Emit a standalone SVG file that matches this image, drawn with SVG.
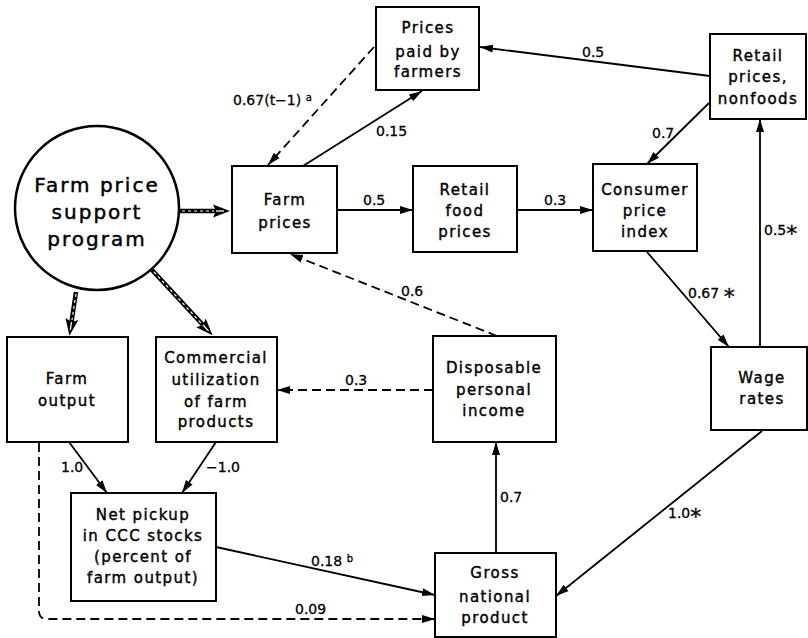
<svg xmlns="http://www.w3.org/2000/svg" width="808" height="638" viewBox="0 0 808 638">
<defs>
<style>
.box{fill:#fff;stroke:#000;stroke-width:2}
.nt{font-family:"DejaVu Sans",sans-serif;font-size:15px;letter-spacing:1.4px;text-anchor:middle;fill:#000;stroke:#000;stroke-width:0.4}
.ct{font-family:"DejaVu Sans",sans-serif;font-size:20px;letter-spacing:2px;text-anchor:middle;fill:#000;stroke:#000;stroke-width:0.45}
.lb{font-family:"DejaVu Sans",sans-serif;font-size:14px;fill:#000;stroke:#000;stroke-width:0.3}
.sup{font-size:10px}
.ast{font-size:22px}
.ln{fill:none;stroke:#000;stroke-width:1.8}
.ds{fill:none;stroke:#000;stroke-width:1.8;stroke-dasharray:9 5}
.thick{fill:none;stroke:#000;stroke-width:4.5}
.inner{fill:none;stroke:#fff;stroke-width:1.2;stroke-dasharray:3 3}
</style>
<marker id="ah" markerUnits="userSpaceOnUse" markerWidth="14" markerHeight="10" refX="13" refY="4.5" orient="auto" viewBox="0 0 14 10">
<path d="M0,0.5 L13,4.5 L0,8.5 Z" fill="#000"/>
</marker>
<marker id="dh" markerUnits="userSpaceOnUse" markerWidth="18" markerHeight="14" refX="3" refY="7" orient="auto" viewBox="0 0 18 14">
<path d="M0,0.5 L17,7 L0,13.5 L3,7 Z" fill="#000"/>
<path d="M3,7 L11,7" stroke="#fff" stroke-width="1.3"/>
</marker>
</defs>
<rect width="808" height="638" fill="#fff"/>

<g id="connectors">
<!-- double arrows from circle -->
<line class="thick" x1="180" y1="211" x2="216" y2="211" marker-end="url(#dh)"/>
<line class="inner" x1="182" y1="211" x2="214" y2="211"/>
<line class="thick" x1="76" y1="292" x2="71.5" y2="322" marker-end="url(#dh)"/>
<line class="inner" x1="76" y1="294" x2="72" y2="320"/>
<line class="thick" x1="152" y1="270" x2="203" y2="325" marker-end="url(#dh)"/>
<line class="inner" x1="154" y1="272" x2="201" y2="323"/>

<!-- solid -->
<line class="ln" x1="337" y1="210" x2="413" y2="210" marker-end="url(#ah)"/>
<line class="ln" x1="517" y1="210" x2="593" y2="210" marker-end="url(#ah)"/>
<line class="ln" x1="303" y1="166" x2="422" y2="91" marker-end="url(#ah)"/>
<line class="ln" x1="710" y1="76" x2="480" y2="47" marker-end="url(#ah)"/>
<line class="ln" x1="709" y1="103" x2="647" y2="164" marker-end="url(#ah)"/>
<line class="ln" x1="647" y1="252" x2="729" y2="347" marker-end="url(#ah)"/>
<line class="ln" x1="760" y1="347" x2="760" y2="119" marker-end="url(#ah)"/>
<line class="ln" x1="762" y1="431" x2="556" y2="596" marker-end="url(#ah)"/>
<line class="ln" x1="496" y1="553" x2="496" y2="442" marker-end="url(#ah)"/>
<line class="ln" x1="69" y1="442" x2="107" y2="493" marker-end="url(#ah)"/>
<line class="ln" x1="216" y1="442" x2="182" y2="493" marker-end="url(#ah)"/>
<line class="ln" x1="216" y1="547" x2="435" y2="595" marker-end="url(#ah)"/>

<!-- dashed -->
<line class="ds" x1="374" y1="47" x2="268" y2="165" marker-end="url(#ah)"/>
<line class="ds" x1="497" y1="336" x2="290" y2="254" marker-end="url(#ah)"/>
<line class="ds" x1="433" y1="390" x2="277" y2="390" marker-end="url(#ah)"/>
<path class="ds" d="M39,443 V611 Q39,619 47,619 H435" marker-end="url(#ah)"/>

<!-- labels -->
<text class="lb" x="363" y="205">0.5</text>
<text class="lb" x="544" y="205">0.3</text>
<text class="lb" x="376" y="136">0.15</text>
<text class="lb" x="233" y="105">0.67(t−1) <tspan class="sup" dy="-4">a</tspan></text>
<text class="lb" x="582" y="57">0.5</text>
<text class="lb" x="652" y="138">0.7</text>
<text class="lb" x="688" y="298">0.67 <tspan class="ast" dy="6">*</tspan></text>
<text class="lb" x="764" y="235">0.5<tspan class="ast" dy="6">*</tspan></text>
<text class="lb" x="668" y="518">1.0<tspan class="ast" dy="6">*</tspan></text>
<text class="lb" x="500" y="502">0.7</text>
<text class="lb" x="401" y="296">0.6</text>
<text class="lb" x="345" y="385">0.3</text>
<text class="lb" x="61" y="472">1.0</text>
<text class="lb" x="206" y="472">−1.0</text>
<text class="lb" x="311" y="566">0.18 <tspan class="sup" dy="-4">b</tspan></text>
<text class="lb" x="295" y="614">0.09</text>
</g>

<g id="program">
<circle cx="97" cy="208" r="82" fill="#fff" stroke="#000" stroke-width="2.5"/>
<text class="ct" x="97" y="192">Farm price</text>
<text class="ct" x="97" y="219">support</text>
<text class="ct" x="97" y="246">program</text>
</g>

<g id="farm-prices">
<rect class="box" x="232" y="166" width="105" height="87"/>
<text class="nt" x="285" y="205">Farm</text>
<text class="nt" x="285" y="228">prices</text>
</g>

<g id="prices-paid">
<rect class="box" x="376" y="7" width="103" height="83"/>
<text class="nt" x="428" y="33">Prices</text>
<text class="nt" x="428" y="57">paid by</text>
<text class="nt" x="428" y="77">farmers</text>
</g>

<g id="retail-nonfoods">
<rect class="box" x="710" y="34" width="96" height="85"/>
<text class="nt" x="758" y="61">Retail</text>
<text class="nt" x="758" y="82">prices,</text>
<text class="nt" x="758" y="104">nonfoods</text>
</g>

<g id="retail-food">
<rect class="box" x="413" y="166" width="104" height="86"/>
<text class="nt" x="465" y="195">Retail</text>
<text class="nt" x="465" y="216">food</text>
<text class="nt" x="465" y="237">prices</text>
</g>

<g id="cpi">
<rect class="box" x="593" y="164" width="104" height="87"/>
<text class="nt" x="645" y="195">Consumer</text>
<text class="nt" x="645" y="216">price</text>
<text class="nt" x="645" y="237">index</text>
</g>

<g id="disposable-income">
<rect class="box" x="433" y="336" width="123" height="106"/>
<text class="nt" x="494" y="373">Disposable</text>
<text class="nt" x="494" y="395">personal</text>
<text class="nt" x="494" y="416">income</text>
</g>

<g id="wage-rates">
<rect class="box" x="711" y="347" width="96" height="83"/>
<text class="nt" x="762" y="383">Wage</text>
<text class="nt" x="762" y="404">rates</text>
</g>

<g id="gnp">
<rect class="box" x="435" y="553" width="121" height="84"/>
<text class="nt" x="495" y="578">Gross</text>
<text class="nt" x="495" y="602">national</text>
<text class="nt" x="495" y="623">product</text>
</g>

<g id="farm-output">
<rect class="box" x="7" y="337" width="121" height="105"/>
<text class="nt" x="67" y="384">Farm</text>
<text class="nt" x="67" y="406">output</text>
</g>

<g id="commercial-utilization">
<rect class="box" x="156" y="337" width="121" height="105"/>
<text class="nt" x="216" y="363">Commercial</text>
<text class="nt" x="216" y="385">utilization</text>
<text class="nt" x="216" y="407">of farm</text>
<text class="nt" x="216" y="427">products</text>
</g>

<g id="net-pickup">
<rect class="box" x="71" y="493" width="145" height="108"/>
<text class="nt" x="143" y="520">Net pickup</text>
<text class="nt" x="143" y="541">in CCC stocks</text>
<text class="nt" x="143" y="562">(percent of</text>
<text class="nt" x="143" y="583">farm output)</text>
</g>
</svg>
